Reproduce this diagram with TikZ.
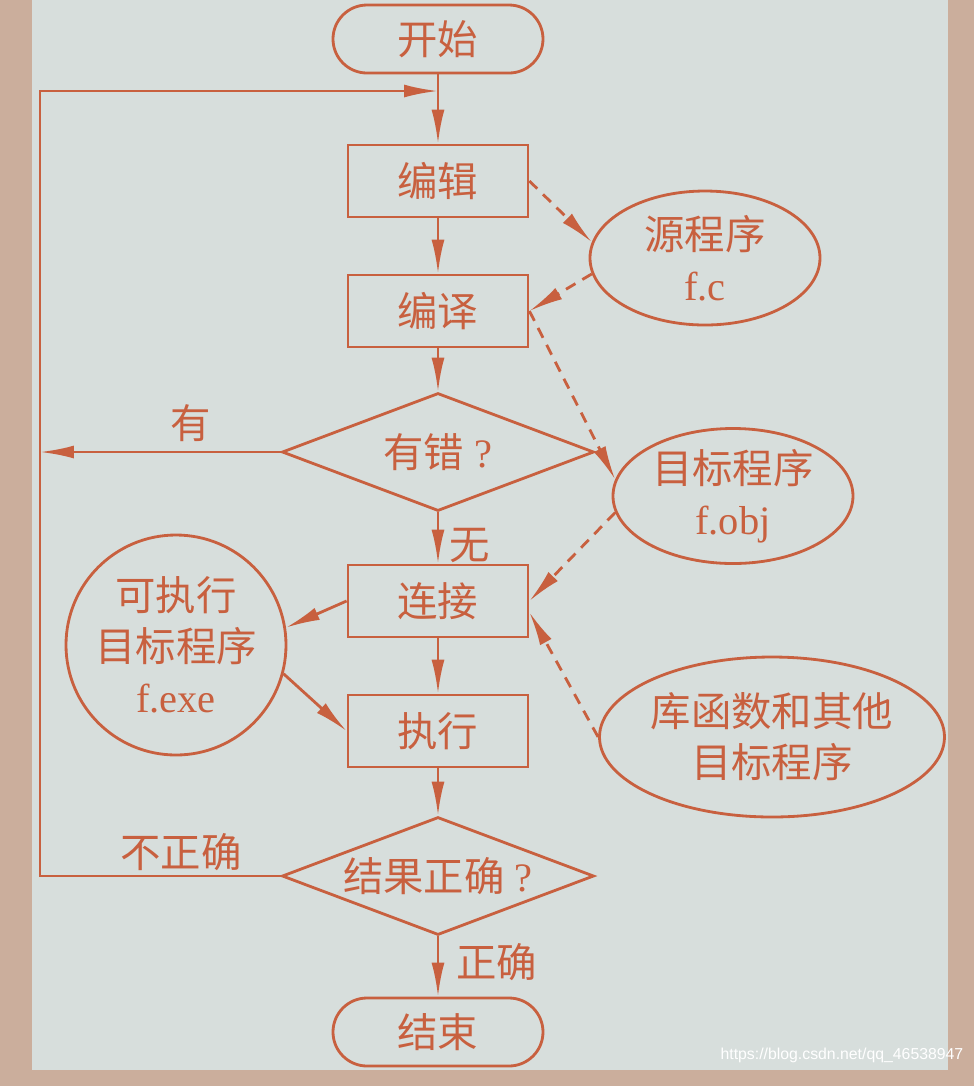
\documentclass[tikz,border=0pt]{standalone}
\usepackage{fontspec}
\setmainfont{Liberation Serif}
\newfontfamily\cjk{Noto Sans CJK SC}
\newfontfamily\urlfont{Liberation Sans}
\usepackage{tikz}
\usetikzlibrary{arrows.meta, shapes.geometric}
\definecolor{ink}{HTML}{C8603F}
\definecolor{paper}{HTML}{D7DEDC}
\definecolor{rim}{HTML}{CBAE9C}

\begin{document}
\begin{tikzpicture}[x=0.1mm, y=-0.1mm,
  font=\fontsize{11.5}{14.5}\selectfont, text=ink,
  base/.style={draw=ink, line width=0.8pt, inner sep=0pt},
  terminal/.style={base, minimum width=21mm, minimum height=6.8mm, rounded corners=3.4mm},
  stepbox/.style={base, minimum width=18mm, minimum height=7.2mm},
  decision/.style={base, diamond, aspect=2.7, minimum width=31.2mm, minimum height=11.8mm},
  datafile/.style={base, ellipse, align=center},
  flow/.style={draw=ink, line width=0.8pt, -{Latex[length=3.4mm, width=1.3mm]}},
  dataflow/.style={flow, dash pattern=on 1.1mm off 0.8mm}]
\fill[rim] (0,0) rectangle (974,1086);
\fill[paper] (32,0) rectangle (948,1070);

\node[terminal] (start) at (438,39) {\cjk 开始};
\node[stepbox] (edit) at (438,181) {\cjk 编辑};
\node[stepbox] (compile) at (438,311) {\cjk 编译};
\node[decision] (err) at (438,452) {{\cjk 有错}\ ?};
\node[stepbox] (link) at (438,601) {\cjk 连接};
\node[stepbox] (run) at (438,731) {\cjk 执行};
\node[decision] (check) at (438,876) {{\cjk 结果正确}\ ?};
\node[terminal] (finish) at (438,1032) {\cjk 结束};

\node[datafile, minimum width=23mm, minimum height=13.4mm] (src) at (705,258) {{\cjk 源程序}\\f.c};
\node[datafile, minimum width=24mm, minimum height=13.5mm] (obj) at (733,496) {{\cjk 目标程序}\\f.obj};
\node[datafile, minimum width=34.5mm, minimum height=16mm] (lib) at (772,737) {{\cjk 库函数和其他}\\{\cjk 目标程序}};
\node[base, circle, minimum size=22mm, align=center] (exe) at (176,645) {{\cjk 可执行}\\{\cjk 目标程序}\\f.exe};

\node (yes) at (191,423) {\cjk 有};
\node (no) at (470,545) {\cjk 无};
\node (wrong) at (181,852) {\cjk 不正确};
\node (right) at (497,962) {\cjk 正确};
\node[font=\urlfont\fontsize{4.5}{5}\selectfont, text=white, anchor=east, inner sep=0pt] (mark) at (964,1055) {https://blog.csdn.net/qq\_46538947};

\coordinate (merge) at (438,91);
\coordinate (lside) at (40,876);

\draw[flow] (start) -- (edit);
\draw[flow] (edit) -- (compile);
\draw[flow] (compile) -- (err);
\draw[flow] (err) -- (link);
\draw[flow] (link) -- (run);
\draw[flow] (run) -- (check);
\draw[flow] (check) -- (finish);
\draw[flow] (err.west) -- (err.west -| lside);
\draw[flow] (check.west) -- (lside) |- (merge);
\draw[flow] (link.west) -- (exe.9);
\draw[flow] (exe.-15) -- (run.west);
\draw[dataflow] (edit.east) -- (src.172);
\draw[dataflow] (src.188) -- (compile.east);
\draw[dataflow] (compile.east) -- (obj.172);
\draw[dataflow] (obj.188) -- (link.east);
\draw[dataflow] (lib.west) -- (link.-7);
\end{tikzpicture}
\end{document}
